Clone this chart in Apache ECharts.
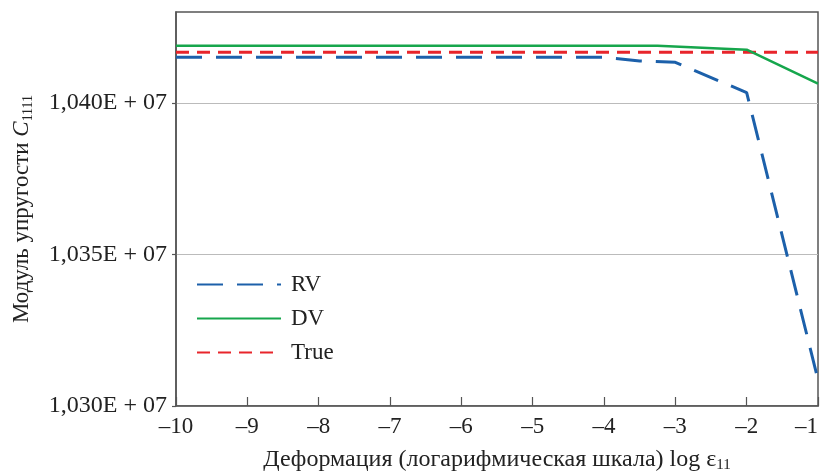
<!DOCTYPE html>
<html><head><meta charset="utf-8">
<script src="https://cdn.jsdelivr.net/npm/echarts@6/dist/echarts.min.js"></script>
<style>html,body{margin:0;padding:0;background:#fff}#c{width:821px;height:472px}</style>
</head><body><div id="c"></div>
<script>
// Data
const xTicks = [-10, -9, -8, -7, -6, -5, -4, -3, -2, -1];
const yTicks = [10300000, 10350000, 10400000];
const rvX = [-10, -9, -8, -7, -6, -5, -4, -3.5, -3, -2, -1];
const rvY = [10415030, 10415030, 10415030, 10415030, 10415030, 10415030, 10415030, 10413840, 10413380, 10403400, 10308670];
const dvX = [-10, -9, -8, -7, -6, -5, -4, -3.25, -2, -1];
const dvY = [10418900, 10418900, 10418900, 10418900, 10418900, 10418900, 10418900, 10418900, 10417570, 10406360];
const trueX = [-10, -1];
const trueY = [10416740, 10416740];
const seriesNames = ['RV', 'DV', 'True'];

const FONT = 'Liberation Serif';
const pairs = (xs, ys) => xs.map((x, i) => [x, ys[i]]);
const chart = echarts.init(document.getElementById('c'));
chart.setOption({
  animation: false,
  backgroundColor: '#fff',
  grid: { left: 176, right: 3, top: 12, bottom: 66, show: true, borderColor: '#555', borderWidth: 1.5,
          containLabel: false, outerBoundsMode: 'none' },
  legend: {
    data: seriesNames,
    orient: 'vertical', left: 191, top: 268,
    itemWidth: 84, itemHeight: 14, itemGap: 11,
    itemStyle: { opacity: 0 },
    textStyle: { fontFamily: FONT, fontSize: 23, color: '#222', padding: [0, 0, 0, 5] }
  },
  xAxis: {
    type: 'value', min: -10, max: -1, interval: 1,
    axisLine: { lineStyle: { color: '#555', width: 1.5 } },
    axisTick: { inside: true, length: 9, lineStyle: { color: '#555', width: 1.2 } },
    splitLine: { show: false },
    axisLabel: { fontFamily: FONT, fontSize: 23, color: '#222', margin: 9, alignMaxLabel: 'right',
      formatter: v => xTicks.includes(v) ? (v < 0 ? '\u2013' + Math.abs(v) : String(v)) : '' },
    name: '{a|Деформация (логарифмическая шкала) log ε}{s|11}',
    nameLocation: 'middle', nameGap: 40,
    nameTextStyle: { fontFamily: FONT, fontSize: 24, color: '#222',
      rich: { a: { fontFamily: FONT, fontSize: 24, color: '#222' },
              s: { fontFamily: FONT, fontSize: 15, color: '#222', padding: [12, 0, 0, 0] } } }
  },
  yAxis: {
    type: 'value', min: 10300000, max: 10430000, interval: 50000,
    axisLine: { show: true, lineStyle: { color: '#555', width: 1.5 } },
    axisTick: { show: true, length: 4, customValues: yTicks, lineStyle: { color: '#555', width: 1.2 } },
    splitLine: { lineStyle: { color: '#bbb', width: 1 } },
    axisLabel: { fontFamily: FONT, fontSize: 24, color: '#222', margin: 9, customValues: yTicks,
      formatter: v => (v / 1e7).toFixed(3).replace('.', ',') + 'E + 07' },
    name: '{a|Модуль упругости }{i|C}{s|1111}',
    nameLocation: 'middle', nameGap: 141, nameRotate: 90,
    nameTextStyle: { fontFamily: FONT, fontSize: 23, color: '#222',
      rich: { a: { fontFamily: FONT, fontSize: 23, color: '#222' },
              i: { fontFamily: FONT, fontSize: 23, color: '#222', fontStyle: 'italic' },
              s: { fontFamily: FONT, fontSize: 14, color: '#222', padding: [12, 0, 0, 0] } } }
  },
  series: [
    { name: 'RV', type: 'line', data: pairs(rvX, rvY), symbol: 'none', z: 3,
      lineStyle: { color: '#1c60aa', width: 3, type: [26, 14] }, itemStyle: { color: '#1c60aa' } },
    { name: 'DV', type: 'line', data: pairs(dvX, dvY), symbol: 'none', z: 4,
      lineStyle: { color: '#16a64c', width: 2.5, type: 'solid' }, itemStyle: { color: '#16a64c' } },
    { name: 'True', type: 'line', data: pairs(trueX, trueY), symbol: 'none', z: 2,
      lineStyle: { color: '#e8252b', width: 3, type: [13, 8] }, itemStyle: { color: '#e8252b' } }
  ]
});
</script></body></html>
